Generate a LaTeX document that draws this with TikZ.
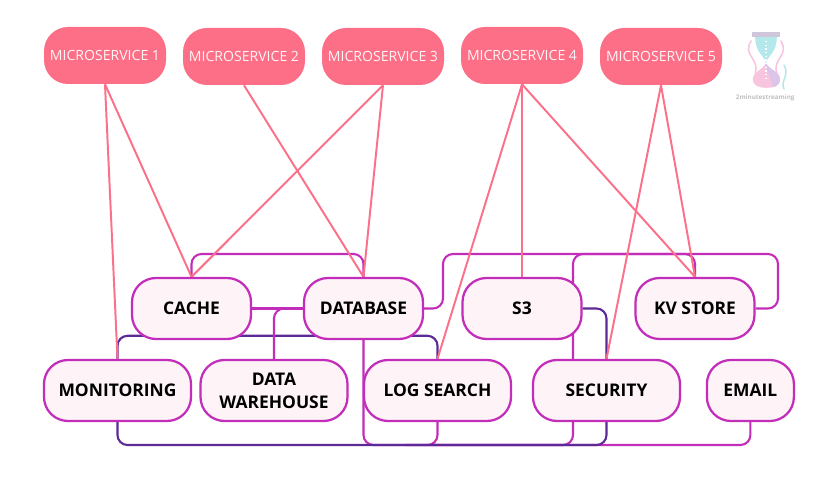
\documentclass[tikz,border=0pt]{standalone}
\usepackage{fontspec}
\setmainfont{Open Sans}
\usetikzlibrary{backgrounds}
\definecolor{svcpink}{HTML}{FC6F87}
\definecolor{linepink}{HTML}{FA7189}
\definecolor{magline}{HTML}{C22DB9}
\definecolor{darkline}{HTML}{5C2A96}
\definecolor{boxfill}{HTML}{FEF4F8}
\definecolor{logobar}{HTML}{CFC6DC}
\definecolor{logoteal}{HTML}{B4E8EA}
\definecolor{logopink}{HTML}{F7C6DE}
\definecolor{logolilac}{HTML}{DCC4EA}
\tikzset{
	service/.style={shape=rectangle, rounded corners=0.6cm, fill=svcpink, text=white!92!svcpink, inner sep=0, minimum width=3.05cm, minimum height=1.425cm, font=\fontsize{10}{12}\selectfont},
	store/.style={shape=rectangle, rounded corners=0.6cm, draw=magline, fill=boxfill, line width=1.6pt, inner sep=0, minimum height=1.525cm, font=\fontsize{12.4}{16.5}\selectfont\bfseries, align=center},
	pinkwire/.style={draw=linepink, line width=1.4pt},
	magwire/.style={draw=magline, line width=1.5pt, rounded corners=0.25cm},
	darkwire/.style={draw=darkline, line width=1.5pt, rounded corners=0.25cm},
	logoswirl/.style={line width=1.1pt, line cap=round},
}
\begin{document}
\begin{tikzpicture}
	\useasboundingbox (0, 0) rectangle (20.75, 11.975);
	% Microservices:
	\node[service](Micro1) at (2.625, 10.5875){MICROSERVICE 1};
	\node[service](Micro2) at (6.1, 10.5625){MICROSERVICE 2};
	\node[service](Micro3) at (9.575, 10.5625){MICROSERVICE 3};
	\node[service](Micro4) at (13.05, 10.5875){MICROSERVICE 4};
	\node[service](Micro5) at (16.525, 10.5625){MICROSERVICE 5};
	% Stores, upper row:
	\node[store, minimum width=2.975cm](Cache) at (4.7875, 4.2625){CACHE};
	\node[store, minimum width=2.975cm](Database) at (9.0875, 4.2625){DATABASE};
	\node[store, minimum width=2.975cm](S3) at (13.05, 4.2625){S3};
	\node[store, minimum width=2.975cm](KVStore) at (17.375, 4.2625){KV STORE};
	% Stores, lower row:
	\node[store, minimum width=3.675cm](Monitoring) at (2.9375, 2.2125){MONITORING};
	\node[store, minimum width=3.675cm](Warehouse) at (6.85, 2.2125){DATA\\WAREHOUSE};
	\node[store, minimum width=3.675cm](LogSearch) at (10.9375, 2.2125){LOG SEARCH};
	\node[store, minimum width=3.675cm](Security) at (15.1625, 2.2125){SECURITY};
	\node[store, minimum width=2.175cm](Email) at (18.76, 2.2125){EMAIL};
	% Free ends and bends:
	\coordinate (TopCache) at (7, 5.625);
	\coordinate (TopStore) at (11.075, 5.625);
	\coordinate (TopRight) at (19.45, 5.625);
	\coordinate (SecNorth) at (14.325, 2.975);
	\coordinate (SecSouth) at (14.325, 1.45);
	\coordinate (MidDark) at (6, 3.58);
	\coordinate (Bottom) at (10, 0.85);
	% Wires:
	\begin{pgfonlayer}{background}
		\draw[darkwire] (Monitoring.north) |- (MidDark) -| (LogSearch.north);
		\draw[darkwire] (S3.east) -| (Security.north);
		\draw[magwire] (Cache.north) |- (TopCache) -| (Database.north);
		\draw[magwire] (Cache.east) -- (Database.west);
		\draw[magwire] (Database.west) -| (Warehouse.north);
		\draw[magwire] (Database.east) -| (TopStore) -| (KVStore.north);
		\draw[magwire] (SecNorth) |- (TopRight) |- (KVStore.east);
		\draw[magwire] (LogSearch.south) |- (Bottom) -| (Email.south);
		\draw[magwire] (Database.south) |- (Bottom) -| (SecSouth);
		\draw[darkwire] (Monitoring.south) |- (Bottom) -| (Security.south);
		\draw[pinkwire] (Micro1.south) -- (Cache.north);
		\draw[pinkwire] (Micro1.south) -- (Monitoring.north);
		\draw[pinkwire] (Micro2.south) -- (Database.north);
		\draw[pinkwire] (Micro3.south) -- (Cache.north);
		\draw[pinkwire] (Micro3.south) -- (Database.north);
		\draw[pinkwire] (Micro4.south) -- (LogSearch.north);
		\draw[pinkwire] (Micro4.south) -- (S3.north);
		\draw[pinkwire] (Micro4.south) -- (KVStore.north);
		\draw[pinkwire] (Micro5.south) -- (KVStore.north);
		\draw[pinkwire] (Micro5.south) -- (Security.north);
	\end{pgfonlayer}
	% Logo:
	\draw[logoswirl, logopink] (18.78, 10.95) .. controls (18.55, 10.6) and (19.0, 10.5) .. (18.88, 10.15);
	\draw[logoswirl, logopink] (19.52, 10.95) .. controls (19.75, 10.6) and (19.3, 10.5) .. (19.42, 10.15);
	\draw[logoswirl, logoteal] (19.6, 10.35) .. controls (19.75, 10.1) and (19.5, 9.95) .. (19.6, 9.75);
	\fill[logoteal] (18.88, 11.05) .. controls (18.88, 10.65) and (19.1, 10.6) .. (19.15, 10.4) .. controls (19.2, 10.6) and (19.42, 10.65) .. (19.42, 11.05) -- cycle;
	\fill[logopink] (19.15, 10.4) .. controls (19.05, 10.2) and (18.82, 10.2) .. (18.82, 9.98) .. controls (18.82, 9.85) and (18.95, 9.78) .. (19.15, 9.78) .. controls (19.4, 9.78) and (19.5, 9.85) .. (19.5, 9.98) .. controls (19.5, 10.2) and (19.25, 10.2) .. (19.15, 10.4) -- cycle;
	\fill[logolilac] (19.15, 10.4) .. controls (19.25, 10.2) and (19.5, 10.2) .. (19.5, 9.98) .. controls (19.5, 9.88) and (19.42, 9.82) .. (19.32, 9.8) .. controls (19.3, 10.05) and (19.15, 10.15) .. (19.15, 10.4) -- cycle;
	\fill[logobar] (18.8, 11.175) rectangle (19.5, 11.05);
	\draw[white, line width=0.8pt, dash pattern=on 1pt off 1.6pt] (19.15, 10.95) -- (19.15, 9.95);
	\node[text=gray!50, font=\fontsize{4.5}{5}\selectfont\bfseries](LogoText) at (19.13, 9.53){2minutestreaming};
\end{tikzpicture}
\end{document}
